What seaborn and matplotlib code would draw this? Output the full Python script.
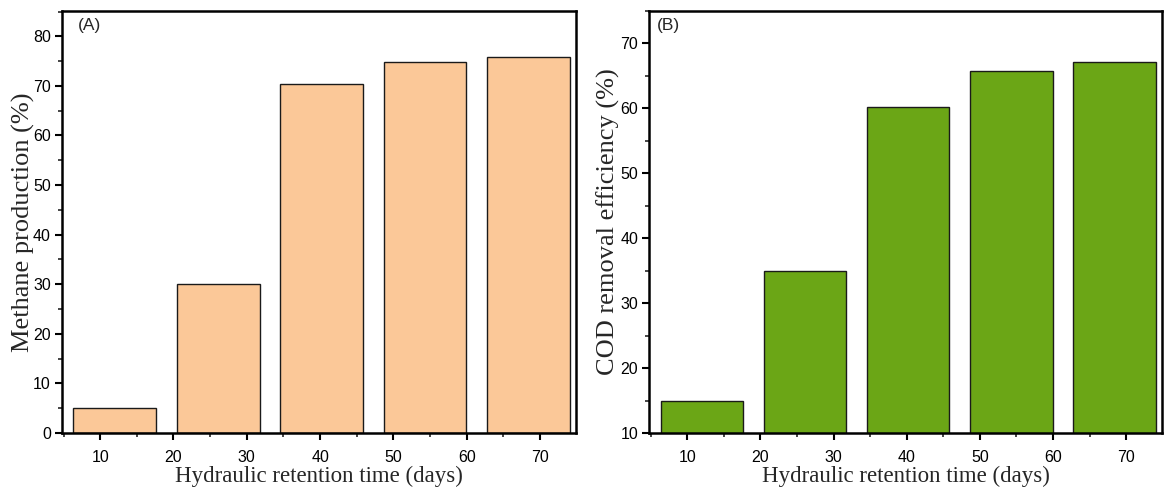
import matplotlib
matplotlib.use("Agg")
import matplotlib.pyplot as plt
from matplotlib.ticker import MultipleLocator
import seaborn as sns
import pandas as pd

# Data
hrt_positions = [12.0, 26.1, 40.2, 54.3, 68.4]
methane_production = [5.0, 30.0, 70.4, 74.8, 75.8]
cod_removal = [15.0, 35.0, 60.2, 65.8, 67.1]
x_ticks = [10, 20, 30, 40, 50, 60, 70]

sns.set_theme(style="ticks")
plt.rcParams["font.family"] = ["Liberation Sans", "DejaVu Sans"]

fig = plt.figure(figsize=(11.64, 4.90), dpi=100)
axA = fig.add_axes([0.0533, 0.1163, 0.4416, 0.8612])
axB = fig.add_axes([0.5578, 0.1163, 0.4405, 0.8612])

dfA = pd.DataFrame({"hrt": hrt_positions, "val": methane_production})
dfB = pd.DataFrame({"hrt": hrt_positions, "val": cod_removal})

sns.barplot(data=dfA, x="hrt", y="val", native_scale=True, color="#FBC898",
            saturation=1, edgecolor="#1a1a1a", linewidth=1.0, width=0.8, ax=axA)
sns.barplot(data=dfB, x="hrt", y="val", native_scale=True, color="#6BA616",
            saturation=1, edgecolor="#1a1a1a", linewidth=1.0, width=0.8, ax=axB)

serif = ["Liberation Serif", "DejaVu Serif"]

for ax, ylim, ymaj, ylabel, tag, tagx, lpad in [
    (axA, (0, 85.1), 10, "Methane production (%)", "(A)", 0.031, -1.5),
    (axB, (10, 75.0), 10, "COD removal efficiency (%)", "(B)", 0.0144, 0.0),
]:
    ax.set_xlim(4.8, 74.9)
    ax.set_ylim(*ylim)
    ax.set_xticks(x_ticks)
    ax.set_xticklabels([str(t) for t in x_ticks])
    ax.xaxis.set_minor_locator(MultipleLocator(5))
    ax.yaxis.set_major_locator(MultipleLocator(ymaj))
    ax.yaxis.set_minor_locator(MultipleLocator(5))
    ax.tick_params(axis="both", which="major", direction="out", length=5, width=1.5,
                   labelsize=11.5, colors="black")
    ax.tick_params(axis="x", which="major", pad=7)
    ax.tick_params(axis="y", which="major", pad=3)
    ax.tick_params(axis="both", which="minor", direction="out", length=3, width=1.2)
    for s in ax.spines.values():
        s.set_visible(True)
        s.set_linewidth(1.8)
        s.set_color("black")
    ax.set_xlabel("Hydraulic retention time (days)", fontsize=16.5, family=serif, labelpad=1)
    ax.set_ylabel(ylabel, fontsize=19, family=serif, labelpad=lpad)
    ax.text(tagx, 0.983, tag, transform=ax.transAxes, ha="left", va="top", fontsize=12.5)

fig.savefig("out.png", dpi=100)
